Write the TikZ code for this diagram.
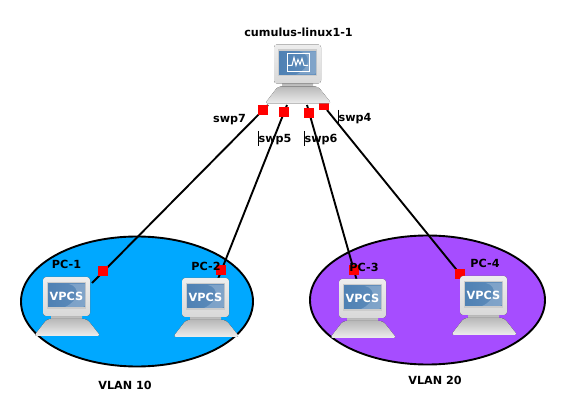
\documentclass[tikz,border=0pt]{standalone}
\usepackage{fontspec}
\setmainfont{DejaVu Sans}
\usetikzlibrary{calc}
\definecolor{vlanblue}{HTML}{00A8FF}
\definecolor{vlanpurple}{HTML}{A64DFF}
\definecolor{scrblue}{HTML}{4F81B4}
\definecolor{scrlight}{HTML}{A9C1DC}
\definecolor{portred}{HTML}{FF0000}
\tikzset{
  x=1pt,y=-1pt,
  vlan/.style={draw=black,line width=1.9pt},
  link/.style={draw=black,line width=1.9pt},
  port/.style={fill=portred,draw=none,minimum size=10pt,inner sep=0pt,outer sep=0pt,shape=rectangle},
  lbl/.style={font=\fontsize{11.2}{12}\selectfont\bfseries,inner sep=0pt,text=black},
  caret/.style={draw=black,line width=0.7pt},
  pics/computer/.style={code={
    % neck
    \fill[top color=gray!60,bottom color=gray!35] (8,38) rectangle (39,44);
    % base
    \fill[rounded corners=3pt,top color=gray!55,bottom color=gray!14,draw=none]
      (4,42) -- (44,42) -- (57.5,59) -- (-9,59) -- cycle;
    % monitor shell
    \fill[rounded corners=3pt,top color=gray!14,bottom color=gray!30] (0,0) rectangle (47,39);
    \fill[gray!40] (4,5) rectangle (43,32);
    % screen
    \shade[left color=scrblue,right color=scrblue!90!white] (5,7) rectangle (42,30);
    \fill[scrlight,opacity=.45] (26,7) .. controls (38,10) and (36,24) .. (22,30) -- (40,30) .. controls (42,30) and (42,28) .. (42,26) -- (42,7) -- cycle;
    #1
  }},
  vpcstext/.style={font=\fontsize{11.3}{12}\selectfont\bfseries,text=white,inner sep=0pt}
}
\begin{document}
\begin{tikzpicture}
\useasboundingbox (0,0) rectangle (566,417);
\fill[white] (0,0) rectangle (566,417);
\path[vlan,fill=vlanblue] (137,301.5) ellipse [x radius=116,y radius=65];
\path[vlan,fill=vlanpurple] (427.5,300) ellipse [x radius=117.5,y radius=64.5];
% link ends
\coordinate (swA) at (268,105);
\coordinate (swB) at (287,105);
\coordinate (swC) at (307,105);
\coordinate (swD) at (327,110);
\coordinate (pcA) at (92,283);
\coordinate (pcB) at (218,279);
\coordinate (pcC) at (357,281);
\coordinate (pcD) at (460,274);
\draw[link] (swA) -- (pcA);
\draw[link] (swB) -- (pcB);
\draw[link] (swC) -- (pcC);
\draw[link] (swD) -- (pcD);
% ports
\node[port] (p1) at (102.5,271) {};
\node[port] (p2) at (221,270) {};
\node[port] (p3) at (354,270) {};
\node[port] (p4) at (460,274) {};
\node[port] (s4) at (323.5,105) {};
% computers
\pic at (43,277) {computer={\node[vpcstext] (vp1) at (23.5,19) {VPCS};}};
\pic at (182,278) {computer={\node[vpcstext] (vp2) at (23.5,19) {VPCS};}};
\pic at (339,279) {computer={\node[vpcstext] (vp3) at (23.5,19) {VPCS};}};
\pic at (460,276) {computer={\node[vpcstext] (vp4) at (23.5,19) {VPCS};}};
\pic at (274,44.5) {computer={
  \draw[white,line width=1pt] (13,9.5) rectangle (35,27);
  \draw[white,line width=1pt] (14,21) -- (18,21) -- (20,13) -- (22,21) -- (24,15) -- (26,20) -- (28,14) -- (30,21) -- (34,21);
}};
% ports in front of the switch base
\node[port] (s7) at (263,110) {};
\node[port] (s5) at (284,112) {};
\node[port] (s6) at (309,113) {};
% labels
\node[lbl] (t0) at (298.5,32) {cumulus-linux1-1};
\node[lbl] (tA) at (229.5,120) {swp7};
\node[lbl] (tB) at (275,140) {swp5};
\node[lbl] (tC) at (321,140) {swp6};
\node[lbl] (tD) at (355,119) {swp4};
\node[lbl] (t1) at (66.5,264.5) {PC-1};
\node[lbl] (t2) at (206,266) {PC-2};
\node[lbl] (t3) at (364,267) {PC-3};
\node[lbl] (t4) at (485,263.5) {PC-4};
\node[lbl] (v1) at (125,385.5) {VLAN 10};
\node[lbl] (v2) at (435,380.5) {VLAN 20};
% text cursors
\coordinate (c4a) at (338,110); \coordinate (c4b) at (338,125);
\coordinate (c5a) at (258,131); \coordinate (c5b) at (258,146);
\coordinate (c6a) at (304,131); \coordinate (c6b) at (304,146);
\draw[caret] (c4a) -- (c4b);
\draw[caret] (c5a) -- (c5b);
\draw[caret] (c6a) -- (c6b);
\end{tikzpicture}
\end{document}
